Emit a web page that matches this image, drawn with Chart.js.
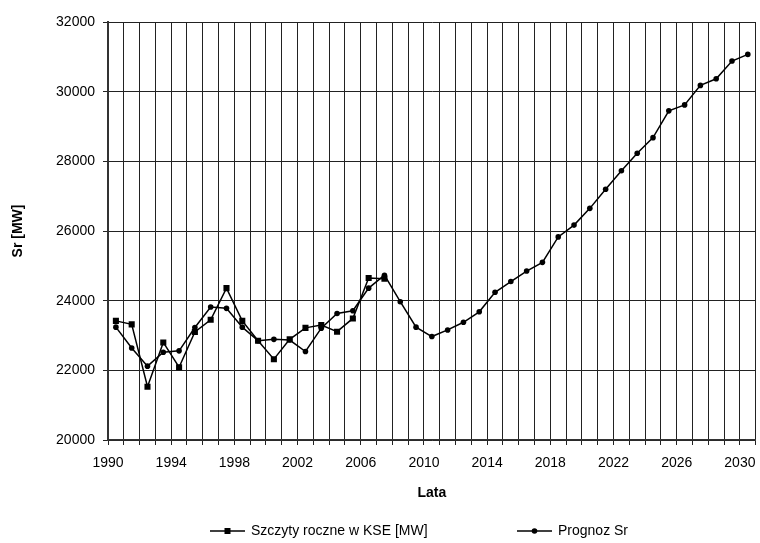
<!DOCTYPE html>
<html>
<head>
<meta charset="utf-8">
<script src="https://cdn.jsdelivr.net/npm/chart.js@4"></script>
<style>
  body { margin: 0; background: #fff; }
</style>
</head>
<body>
<canvas id="mycanvas" width="760" height="543"></canvas>
<script>
var years = [1990, 1991, 1992, 1993, 1994, 1995, 1996, 1997, 1998, 1999,
             2000, 2001, 2002, 2003, 2004, 2005, 2006, 2007, 2008, 2009,
             2010, 2011, 2012, 2013, 2014, 2015, 2016, 2017, 2018, 2019,
             2020, 2021, 2022, 2023, 2024, 2025, 2026, 2027, 2028, 2029, 2030];

// szczyty roczne 1990-2007
var szczyty = [23420, 23320, 21530, 22800, 22090, 23100, 23450, 24360, 23420, 22850,
               22320, 22890, 23220, 23300, 23110, 23490, 24650, 24630];

// prognoza 1990-2030
var prognoza = [23240, 22640, 22120, 22520, 22560, 23230, 23820, 23780, 23240, 22850,
                22890, 22870, 22540, 23210, 23630, 23710, 24360, 24730, 23970, 23240,
                22970, 23160, 23380, 23680, 24240, 24550, 24850, 25100, 25830, 26170,
                26650, 27200, 27730, 28230, 28680, 29450, 29620, 30180, 30370, 30880, 31070];

var yTicks = [20000, 22000, 24000, 26000, 28000, 30000, 32000];
var xLabelYears = [1990, 1994, 1998, 2002, 2006, 2010, 2014, 2018, 2022, 2026, 2030];

var seriesNames = ["Szczyty roczne w KSE [MW]", "Prognoz Sr"];

function toPoints(vals) {
    var pts = [];
    for (var i = 0; i < vals.length; i++) {
        pts.push({x: years[i], y: vals[i]});
    }
    return pts;
}

var FONT = "'Liberation Sans', Arial, sans-serif";

// legenda z linia i znacznikiem
var legendPlugin = {
    id: "lineLegend",
    afterDraw: function (chart) {
        var ctx = chart.ctx;
        var items = [
            {x: 210, text: seriesNames[0], style: "rect"},
            {x: 517, text: seriesNames[1], style: "circle"}
        ];
        var y = 531;
        ctx.save();
        for (var i = 0; i < items.length; i++) {
            var it = items[i];
            ctx.strokeStyle = "#000";
            ctx.lineWidth = 1.5;
            ctx.beginPath();
            ctx.moveTo(it.x, y);
            ctx.lineTo(it.x + 35, y);
            ctx.stroke();
            ctx.fillStyle = "#000";
            if (it.style === "rect") {
                ctx.fillRect(it.x + 14.5, y - 3, 6, 6);
            } else {
                ctx.beginPath();
                ctx.arc(it.x + 17.5, y, 2.8, 0, Math.PI * 2);
                ctx.fill();
            }
            ctx.font = "14px " + FONT;
            ctx.textBaseline = "middle";
            ctx.textAlign = "left";
            ctx.fillText(it.text, it.x + 41, y);
        }
        ctx.restore();
    }
};

var ctx = document.getElementById("mycanvas");
var myChart = new Chart(ctx, {
    type: "line",
    data: {
        datasets: [
            {
                label: seriesNames[0],
                data: toPoints(szczyty),
                borderColor: "#000",
                backgroundColor: "#000",
                borderWidth: 1.5,
                pointStyle: "rect",
                pointRadius: 4.3,
                pointBorderWidth: 0,
                tension: 0
            },
            {
                label: seriesNames[1],
                data: toPoints(prognoza),
                borderColor: "#000",
                backgroundColor: "#000",
                borderWidth: 1.5,
                pointStyle: "circle",
                pointRadius: 2.8,
                pointBorderWidth: 0,
                tension: 0
            }
        ]
    },
    options: {
        responsive: false,
        animation: false,
        layout: { padding: { top: 22, right: 3, left: 0, bottom: 40 } },
        plugins: {
            legend: { display: false },
            tooltip: { enabled: false }
        },
        scales: {
            x: {
                type: "linear",
                min: years[0] - 0.5,
                max: years[years.length - 1] + 0.5,
                afterBuildTicks: function (scale) {
                    var t = [];
                    for (var i = 0; i <= years.length; i++) {
                        t.push({value: years[0] - 0.5 + i});
                    }
                    scale.ticks = t;
                },
                afterFit: function (scale) {
                    scale.height = 63;
                    scale.paddingRight = 0;
                    scale.paddingLeft = 0;
                },
                ticks: {
                    autoSkip: false,
                    maxRotation: 0,
                    padding: 10,
                    color: "#000",
                    font: { size: 14, family: FONT },
                    callback: function (v) {
                        var yr = Math.round(v + 0.5);
                        return xLabelYears.indexOf(yr) >= 0 ? String(yr) : "";
                    }
                },
                grid: { color: "#222", lineWidth: 1, tickLength: 5 },
                border: { color: "#333", width: 1.5 },
                title: {
                    display: true,
                    text: "Lata",
                    color: "#000",
                    font: { size: 14, weight: "bold", family: FONT },
                    padding: { top: 0, bottom: 1 }
                }
            },
            y: {
                min: yTicks[0],
                max: yTicks[yTicks.length - 1],
                afterBuildTicks: function (scale) {
                    scale.ticks = yTicks.map(function (v) { return {value: v}; });
                },
                afterFit: function (scale) { scale.width = 108; },
                ticks: {
                    padding: 8,
                    color: "#000",
                    font: { size: 14, family: FONT },
                    callback: function (v) { return String(v); }
                },
                grid: { color: "#222", lineWidth: 1, tickLength: 5 },
                border: { color: "#333", width: 2 },
                title: {
                    display: true,
                    text: "Sr [MW]",
                    color: "#000",
                    font: { size: 14, weight: "bold", family: FONT },
                    padding: { top: 10, bottom: 0 }
                }
            }
        }
    },
    plugins: [legendPlugin]
});
</script>
</body>
</html>
